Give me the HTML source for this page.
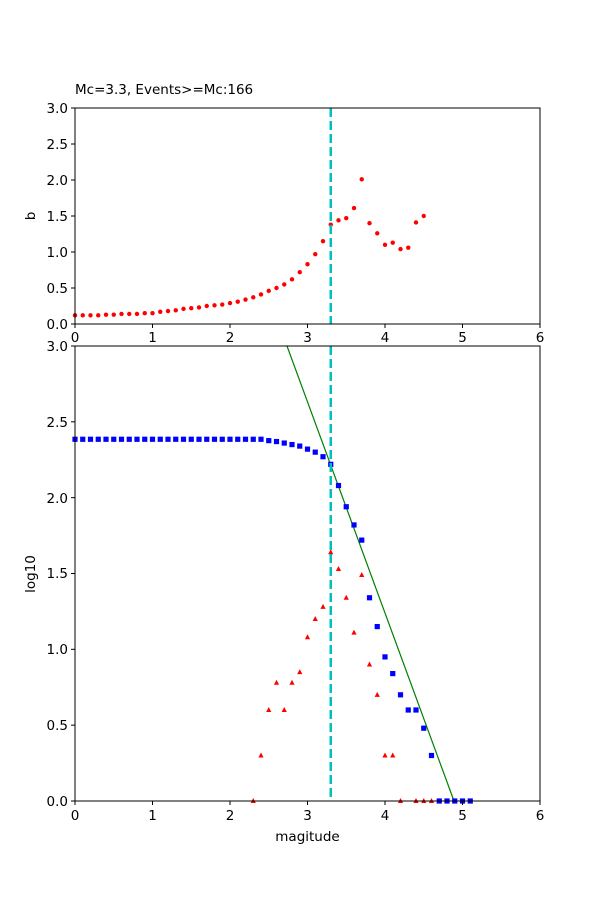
<!DOCTYPE html>
<html><head><meta charset="utf-8"><style>
html,body{margin:0;padding:0;background:#fff}
svg{display:block;font-family:"DejaVu Sans","Liberation Sans",sans-serif;font-size:13.5px}
</style></head><body>
<svg id="s" width="600" height="900" viewBox="0 0 600 900" xmlns="http://www.w3.org/2000/svg">
<rect width="600" height="900" fill="#fff"/>
<g id="gtop"></g><g id="gbot"></g>
<rect x="75" y="108" width="465" height="216" fill="none" stroke="#000" stroke-width="1"/>
<text x="75" y="94" font-size="13.5">Mc=3.3, Events&gt;=Mc:166</text>
<g text-anchor="end">
<text x="68" y="329">0.0</text><text x="68" y="293">0.5</text><text x="68" y="257">1.0</text>
<text x="68" y="221">1.5</text><text x="68" y="185">2.0</text><text x="68" y="149">2.5</text><text x="68" y="113">3.0</text>
</g>
<text transform="translate(35,216) rotate(-90)" text-anchor="middle">b</text>
<rect x="75" y="346" width="465" height="455" fill="none" stroke="#000" stroke-width="1"/>
<g text-anchor="end">
<text x="68" y="806">0.0</text><text x="68" y="730">0.5</text><text x="68" y="654">1.0</text>
<text x="68" y="578">1.5</text><text x="68" y="503">2.0</text><text x="68" y="427">2.5</text><text x="68" y="351">3.0</text>
</g>
<g text-anchor="middle">
<text x="75" y="342">0</text><text x="152.5" y="342">1</text><text x="230" y="342">2</text><text x="307.5" y="342">3</text><text x="385" y="342">4</text><text x="462.5" y="342">5</text><text x="540" y="342">6</text>
<text x="75" y="820">0</text><text x="152.5" y="820">1</text><text x="230" y="820">2</text><text x="307.5" y="820">3</text><text x="385" y="820">4</text><text x="462.5" y="820">5</text><text x="540" y="820">6</text>
<text x="307.5" y="841">magitude</text>
</g>
<text transform="translate(35,574) rotate(-90)" text-anchor="middle">log10</text>
<g id="ticks" stroke="#000" stroke-width="1"></g>
</svg>
<script>
(function(){
var NS="http://www.w3.org/2000/svg";
function el(p,t,a){var e=document.createElementNS(NS,t);for(var k in a)e.setAttribute(k,a[k]);p.appendChild(e);return e;}
var X=function(m){return 75+m*77.5;};
var gt=document.getElementById('gtop'),gb=document.getElementById('gbot'),tk=document.getElementById('ticks');
var i;
for(i=0;i<=6;i++){el(tk,'line',{x1:X(i),x2:X(i),y1:324,y2:328});el(tk,'line',{x1:X(i),x2:X(i),y1:801,y2:805});}
for(i=0;i<=6;i++){var v=i*0.5;el(tk,'line',{x1:71,x2:75,y1:324-v*72,y2:324-v*72});el(tk,'line',{x1:71,x2:75,y1:801-v*151.67,y2:801-v*151.67});}
var b=[0.12,0.12,0.12,0.12,0.13,0.13,0.14,0.14,0.14,0.15,0.15,0.17,0.18,0.19,0.21,0.22,0.23,0.25,0.26,0.27,0.29,0.31,0.34,0.37,0.41,0.46,0.50,0.55,0.62,0.72,0.83,0.97,1.15,1.38,1.44,1.47,1.61,2.01,1.40,1.26,1.10,1.13,1.04,1.06,1.41,1.50];
b.forEach(function(v,i){el(gt,'circle',{cx:X(i*0.1),cy:324-v*72,r:2.2,fill:'#f00'});});
el(gt,'line',{x1:X(3.3),x2:X(3.3),y1:108,y2:324,stroke:'#00bfbf','stroke-width':2.5,'stroke-dasharray':'9,4'});
var Y=function(v){return 801-v*151.67;};
var blue=[];for(i=0;i<25;i++)blue.push(2.385);
blue=blue.concat([2.376,2.37,2.36,2.35,2.34,2.32,2.30,2.27,2.22,2.08,1.94,1.82,1.72,1.34,1.15,0.95,0.84,0.70,0.60,0.60,0.48,0.30,0,0,0,0,0]);
el(gb,'line',{x1:287,y1:346,x2:454,y2:801,stroke:'#008000','stroke-width':1.2});
blue.forEach(function(v,i){var x=X(i*0.1),y=Y(v);el(gb,'rect',{x:x-2.6,y:y-2.6,width:5.2,height:5.2,fill:'#00f'});});
var red=[[2.3,0],[2.4,0.30],[2.5,0.60],[2.6,0.78],[2.7,0.60],[2.8,0.78],[2.9,0.85],[3.0,1.08],[3.1,1.20],[3.2,1.28],[3.3,1.64],[3.4,1.53],[3.5,1.34],[3.6,1.11],[3.7,1.49],[3.8,0.90],[3.9,0.70],[4.0,0.30],[4.1,0.30],[4.2,0],[4.4,0],[4.5,0],[4.6,0]];
red.forEach(function(p){var x=X(p[0]),y=Y(p[1]);el(gb,'polygon',{points:(x)+','+(y-3)+' '+(x-2.6)+','+(y+2)+' '+(x+2.6)+','+(y+2),fill:'#f00'});});
el(gb,'line',{x1:X(3.3),x2:X(3.3),y1:346,y2:801,stroke:'#00bfbf','stroke-width':2.5,'stroke-dasharray':'9,4'});
})();
</script>
</body></html>
